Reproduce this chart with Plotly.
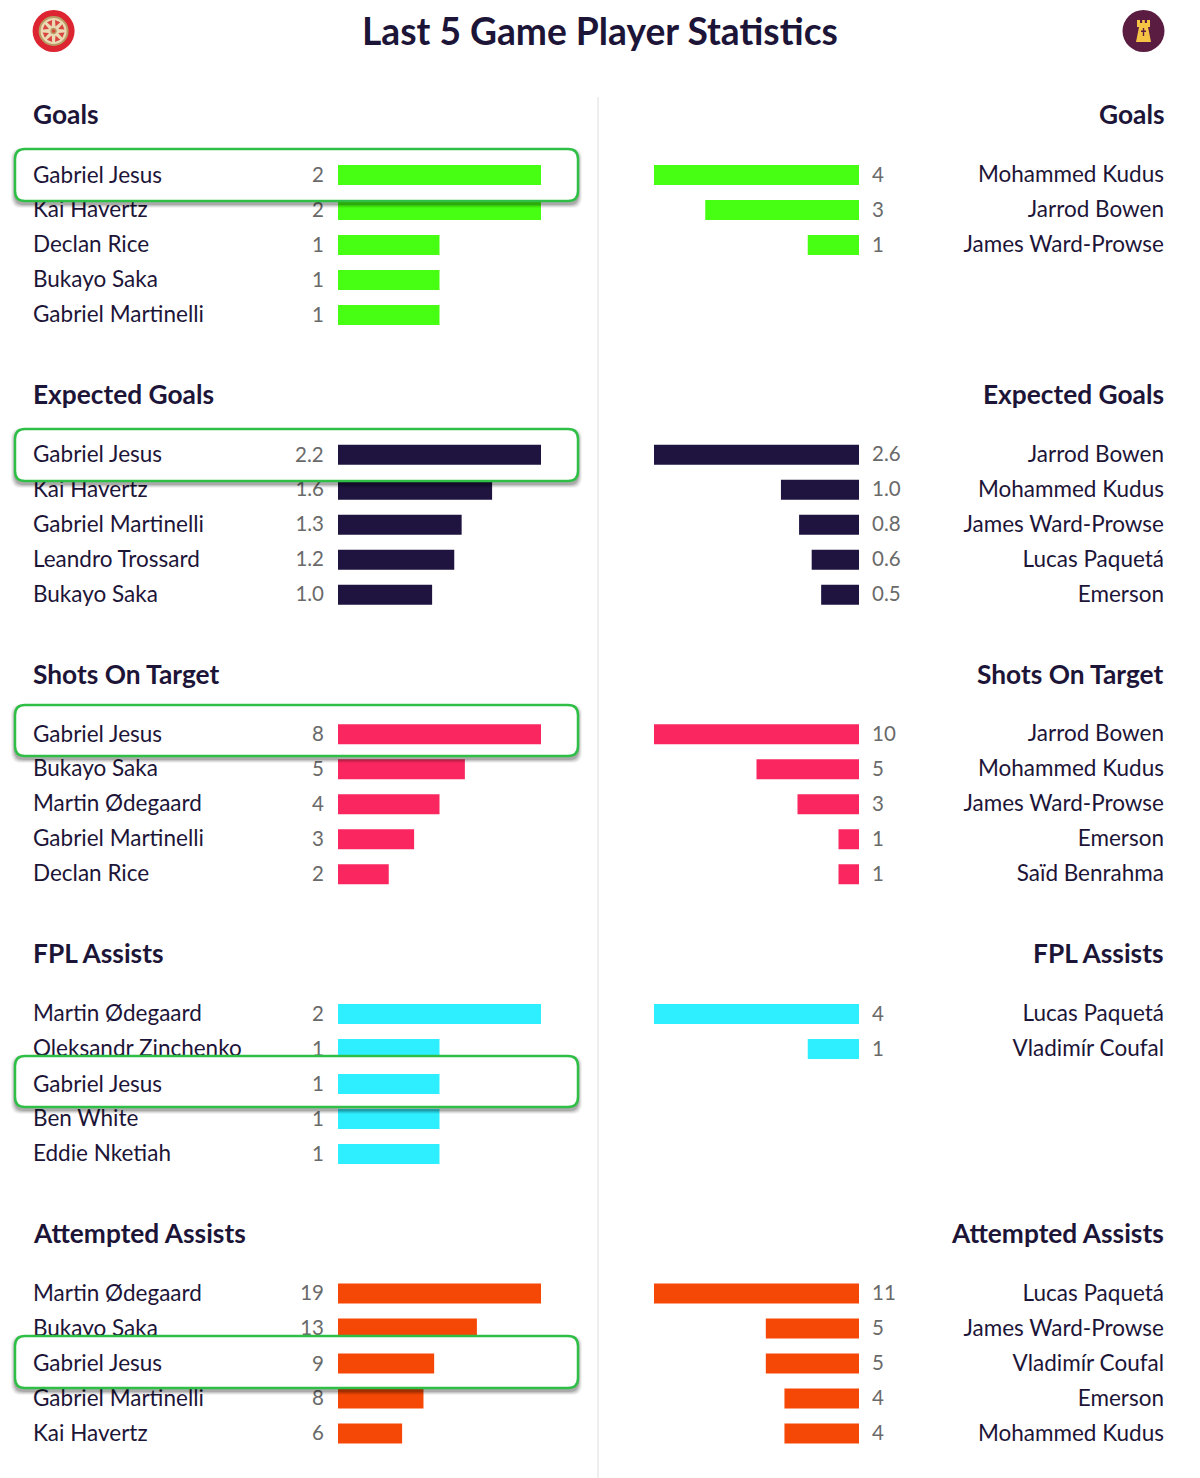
"""Last 5 game player statistics, two teams side by side."""

import math

import plotly.graph_objects as go

WIDTH = 1200
HEIGHT = 1478

TITLE = "Last 5 Game Player Statistics"

goals_home_players = ["Gabriel Jesus", "Kai Havertz", "Declan Rice", "Bukayo Saka", "Gabriel Martinelli"]
goals_home_values = [2, 2, 1, 1, 1]
goals_home_labels = ["2", "2", "1", "1", "1"]
goals_away_players = ["Mohammed Kudus", "Jarrod Bowen", "James Ward-Prowse"]
goals_away_values = [4, 3, 1]
goals_away_labels = ["4", "3", "1"]

xg_home_players = ["Gabriel Jesus", "Kai Havertz", "Gabriel Martinelli", "Leandro Trossard", "Bukayo Saka"]
xg_home_values = [2.2, 1.67, 1.34, 1.26, 1.02]
xg_home_labels = ["2.2", "1.6", "1.3", "1.2", "1.0"]
xg_away_players = ["Jarrod Bowen", "Mohammed Kudus", "James Ward-Prowse", "Lucas Paquetá", "Emerson"]
xg_away_values = [2.6, 0.99, 0.76, 0.6, 0.48]
xg_away_labels = ["2.6", "1.0", "0.8", "0.6", "0.5"]

shots_home_players = ["Gabriel Jesus", "Bukayo Saka", "Martin Ødegaard", "Gabriel Martinelli", "Declan Rice"]
shots_home_values = [8, 5, 4, 3, 2]
shots_home_labels = ["8", "5", "4", "3", "2"]
shots_away_players = ["Jarrod Bowen", "Mohammed Kudus", "James Ward-Prowse", "Emerson", "Saïd Benrahma"]
shots_away_values = [10, 5, 3, 1, 1]
shots_away_labels = ["10", "5", "3", "1", "1"]

assists_home_players = ["Martin Ødegaard", "Oleksandr Zinchenko", "Gabriel Jesus", "Ben White", "Eddie Nketiah"]
assists_home_values = [2, 1, 1, 1, 1]
assists_home_labels = ["2", "1", "1", "1", "1"]
assists_away_players = ["Lucas Paquetá", "Vladimír Coufal"]
assists_away_values = [4, 1]
assists_away_labels = ["4", "1"]

attempted_home_players = ["Martin Ødegaard", "Bukayo Saka", "Gabriel Jesus", "Gabriel Martinelli", "Kai Havertz"]
attempted_home_values = [19, 13, 9, 8, 6]
attempted_home_labels = ["19", "13", "9", "8", "6"]
attempted_away_players = ["Lucas Paquetá", "James Ward-Prowse", "Vladimír Coufal", "Emerson", "Mohammed Kudus"]
attempted_away_values = [11, 5, 5, 4, 4]
attempted_away_labels = ["11", "5", "5", "4", "4"]

# name, colour, home, away, highlighted home row, box top and bottom in pixels
PANELS = [
    ("Goals", "#47ff12",
     (goals_home_players, goals_home_values, goals_home_labels),
     (goals_away_players, goals_away_values, goals_away_labels), 0, 149, 201),
    ("Expected Goals", "#1f1440",
     (xg_home_players, xg_home_values, xg_home_labels),
     (xg_away_players, xg_away_values, xg_away_labels), 0, 429, 481),
    ("Shots On Target", "#f9265f",
     (shots_home_players, shots_home_values, shots_home_labels),
     (shots_away_players, shots_away_values, shots_away_labels), 0, 705, 756),
    ("FPL Assists", "#2eefff",
     (assists_home_players, assists_home_values, assists_home_labels),
     (assists_away_players, assists_away_values, assists_away_labels), 2, 1056, 1107),
    ("Attempted Assists", "#f54705",
     (attempted_home_players, attempted_home_values, attempted_home_labels),
     (attempted_away_players, attempted_away_values, attempted_away_labels), 2, 1336, 1388),
]

PANEL_TOPS = [157.5, 437.2, 716.7, 996.5, 1276]
HEADING_Y = [114, 394, 674, 953, 1233]
ROW_H = 35
BAR_WIDTH = 0.57
TEXT_DROP = 1.5  # row text sits a little below the bar centres

FONT = "Lato"
INK = "#1d1538"
GREY = "#6a6a6a"
BOX_GREEN = "#2fbf47"
NAME_SIZE = 22.5
VALUE_SIZE = 20.5


def px(x):
    return x / WIDTH


def py(y):
    return 1 - y / HEIGHT


def round_rect(x0, y0, x1, y1, r):
    return (
        f"M {px(x0 + r)} {py(y0)} L {px(x1 - r)} {py(y0)} "
        f"Q {px(x1)} {py(y0)} {px(x1)} {py(y0 + r)} L {px(x1)} {py(y1 - r)} "
        f"Q {px(x1)} {py(y1)} {px(x1 - r)} {py(y1)} L {px(x0 + r)} {py(y1)} "
        f"Q {px(x0)} {py(y1)} {px(x0)} {py(y1 - r)} L {px(x0)} {py(y0 + r)} "
        f"Q {px(x0)} {py(y0)} {px(x0 + r)} {py(y0)} Z"
    )


def poly(points, fill):
    path = "M " + " L ".join(f"{px(x)} {py(y)}" for x, y in points) + " Z"
    return dict(type="path", xref="paper", yref="paper", path=path,
                fillcolor=fill, line=dict(width=0), layer="above")


def circle(cx, cy, r, fill, line_color=None, line_width=0):
    return dict(type="circle", xref="paper", yref="paper",
                x0=px(cx - r), x1=px(cx + r), y0=py(cy + r), y1=py(cy - r),
                fillcolor=fill, line=dict(color=line_color, width=line_width), layer="above")


fig = go.Figure()
layout = {}
shapes = []
annotations = []
axis_id = 0


def add_side(panel_no, side, players, values, labels, color, highlight=None):
    global axis_id
    bar_id = axis_id * 2 + 1
    text_id = axis_id * 2 + 2
    bar_y = axis_id * 2 + 1
    text_y = axis_id * 2 + 2
    axis_id += 1
    top = PANEL_TOPS[panel_no]

    if side == "home":
        bar_domain = [px(338), px(541)]
        bar_range = [0, max(values)]
        text_domain = [px(33), px(324)]
        name_x, label_x = 0, 1
        name_pos, label_pos = "middle right", "middle left"
        name_anchor, label_anchor = "left", "right"
    else:
        bar_domain = [px(654), px(859)]
        bar_range = [max(values), 0]
        text_domain = [px(872), px(1164)]
        name_x, label_x = 1, 0
        name_pos, label_pos = "middle left", "middle right"
        name_anchor, label_anchor = "right", "left"

    hidden = dict(visible=False, showgrid=False, zeroline=False, fixedrange=True)
    y_common = dict(hidden, range=[4.5, -0.5], type="category", categoryorder="array", categoryarray=players)
    layout[f"xaxis{bar_id}"] = dict(hidden, domain=bar_domain, range=bar_range, anchor=f"y{bar_y}")
    layout[f"xaxis{text_id}"] = dict(hidden, domain=text_domain, range=[0, 1], anchor=f"y{text_y}")
    layout[f"yaxis{bar_y}"] = dict(y_common, domain=[py(top + 5 * ROW_H), py(top)], anchor=f"x{bar_id}")
    layout[f"yaxis{text_y}"] = dict(
        y_common, domain=[py(top + 5 * ROW_H + TEXT_DROP), py(top + TEXT_DROP)], anchor=f"x{text_id}",
    )

    fig.add_trace(go.Bar(
        x=values, y=players, orientation="h", width=BAR_WIDTH, marker=dict(color=color, line_width=0),
        xaxis=f"x{bar_id}", yaxis=f"y{bar_y}", showlegend=False, hoverinfo="skip",
    ))

    # rows under the highlight box are plain text traces so the box can cover them
    rows = [i for i in range(len(players)) if i != highlight]
    fig.add_trace(go.Scatter(
        x=[name_x] * len(rows), y=[players[i] for i in rows], text=[players[i] for i in rows],
        mode="text", textposition=name_pos,
        textfont=dict(family=FONT, size=NAME_SIZE, color=INK), cliponaxis=False,
        xaxis=f"x{text_id}", yaxis=f"y{text_y}", showlegend=False, hoverinfo="skip",
    ))
    fig.add_trace(go.Scatter(
        x=[label_x] * len(rows), y=[players[i] for i in rows], text=[labels[i] for i in rows],
        mode="text", textposition=label_pos,
        textfont=dict(family=FONT, size=VALUE_SIZE, color=GREY), cliponaxis=False,
        xaxis=f"x{text_id}", yaxis=f"y{text_y}", showlegend=False, hoverinfo="skip",
    ))

    if highlight is not None:
        shapes.append(dict(
            type="rect", xref=f"x{bar_id}", yref=f"y{bar_y}", x0=0, x1=values[highlight],
            y0=highlight - BAR_WIDTH / 2, y1=highlight + BAR_WIDTH / 2,
            fillcolor=color, line=dict(width=0), layer="above",
        ))
        annotations.append(dict(
            x=name_x, y=players[highlight], xref=f"x{text_id}", yref=f"y{text_y}", text=players[highlight],
            showarrow=False, xanchor=name_anchor, xshift=-2, yshift=2.5,
            font=dict(family=FONT, size=NAME_SIZE, color=INK),
        ))
        annotations.append(dict(
            x=label_x, y=players[highlight], xref=f"x{text_id}", yref=f"y{text_y}", text=labels[highlight],
            showarrow=False, xanchor=label_anchor, xshift=2, yshift=2.5,
            font=dict(family=FONT, size=VALUE_SIZE, color=GREY),
        ))


shapes.append(dict(type="line", xref="paper", yref="paper", x0=px(598), x1=px(598), y0=py(97), y1=0,
                   line=dict(color="#eeeeee", width=2), layer="below"))

for n, (name, color, home, away, hl, box_top, box_bottom) in enumerate(PANELS):
    # shadow, then the white box; the highlighted bar goes on top of it
    for grow, alpha in [(4, 0.05), (3, 0.08), (2, 0.11), (1, 0.14)]:
        shapes.append(dict(type="path", xref="paper", yref="paper",
                           path=round_rect(15 - grow, box_top + 3 - grow, 578 + grow, box_bottom + 3 + grow, 10),
                           fillcolor=f"rgba(0,0,0,{alpha})", line=dict(width=0), layer="above"))
    shapes.append(dict(type="path", xref="paper", yref="paper",
                       path=round_rect(15, box_top, 578, box_bottom, 10),
                       fillcolor="white", line=dict(color=BOX_GREEN, width=2.5), layer="above"))
    add_side(n, "home", *home, color, highlight=hl)
    add_side(n, "away", *away, color)
    annotations.append(dict(x=px(33), y=py(HEADING_Y[n]), xref="paper", yref="paper", text=name,
                            showarrow=False, xanchor="left", yanchor="middle", xshift=-2,
                            font=dict(family=FONT, size=26.3, color=INK, weight=700)))
    annotations.append(dict(x=px(1164), y=py(HEADING_Y[n]), xref="paper", yref="paper", text=name,
                            showarrow=False, xanchor="right", yanchor="middle", xshift=2,
                            font=dict(family=FONT, size=26.3, color=INK, weight=700)))

annotations.append(dict(x=px(599.5), y=py(30), xref="paper", yref="paper", text=TITLE, showarrow=False,
                        xanchor="center", yanchor="middle", font=dict(family=FONT, size=37.2, color=INK, weight=700)))

# team badges
BADGE_X, BADGE_Y = 53.6, 31
shapes.append(circle(BADGE_X, BADGE_Y, 21, "#dc2530"))
shapes.append(circle(BADGE_X, BADGE_Y, 14, "#ead9b4", "#b79c63", 2))
for k in range(8):
    a = math.radians(22.5 + 45 * k)
    b = math.radians(22.5 + 45 * k - 15)
    c = math.radians(22.5 + 45 * k + 15)
    shapes.append(poly([(BADGE_X + 5 * math.cos(a), BADGE_Y + 5 * math.sin(a)),
                        (BADGE_X + 11 * math.cos(b), BADGE_Y + 11 * math.sin(b)),
                        (BADGE_X + 11 * math.cos(c), BADGE_Y + 11 * math.sin(c))], "#d8453f"))
shapes.append(circle(BADGE_X, BADGE_Y, 2.5, "#d8453f", "#b79c63", 1.5))

shapes.append(circle(1143.5, 31, 21, "#5a1c40"))
shapes.append(poly([(1137, 20), (1140, 20), (1140, 23), (1142.2, 23), (1142.2, 20), (1144.8, 20), (1144.8, 23),
                    (1147, 23), (1147, 20), (1150, 20), (1150, 27), (1148, 27), (1151, 42), (1136, 42),
                    (1139, 27), (1137, 27)], "#f5c445"))
shapes.append(poly([(1142.8, 28), (1144.2, 28), (1144.2, 36), (1142.8, 36)], "#5a1c40"))
shapes.append(poly([(1141, 30.5), (1146, 30.5), (1146, 32), (1141, 32)], "#5a1c40"))

fig.update_layout(
    width=WIDTH,
    height=HEIGHT,
    margin=dict(l=0, r=0, t=0, b=0),
    paper_bgcolor="white",
    plot_bgcolor="rgba(0,0,0,0)",
    showlegend=False,
    shapes=shapes,
    annotations=annotations,
    **layout,
)

fig.write_html("out.html", config={"displayModeBar": False}, post_script="document.body.style.margin='0';")
